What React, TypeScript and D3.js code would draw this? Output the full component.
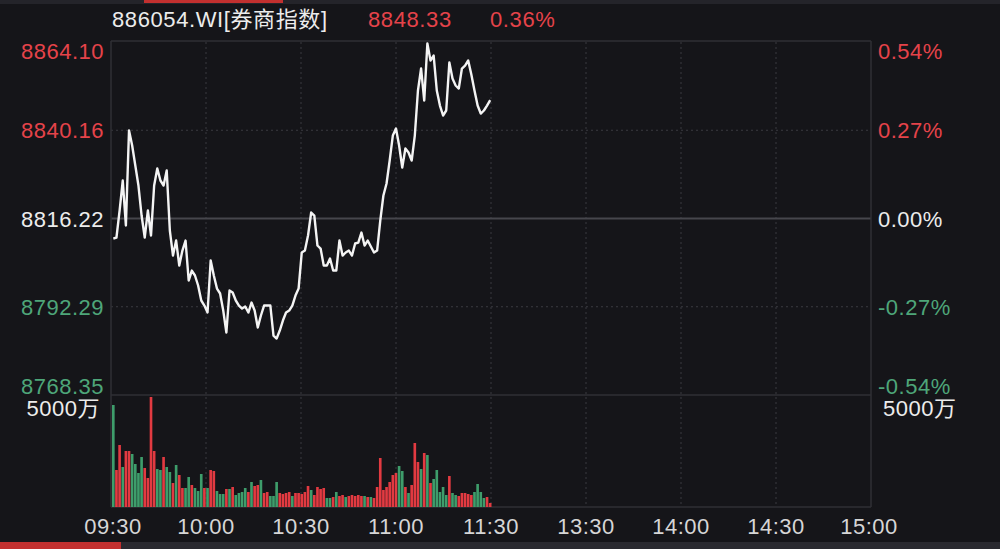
import React from 'react';
import * as d3 from 'd3';

const titleText = '886054.WI[券商指数]';
const lastPriceText = '8848.33';
const lastChangeText = '0.36%';
const prevClose = 8816.22;
const priceTicks = [8864.1, 8840.16, 8816.22, 8792.29, 8768.35];
const pctTicks = ['0.54%', '0.27%', '0.00%', '-0.27%', '-0.54%'];
const timeTickLabels = ['09:30', '10:00', '10:30', '11:00', '11:30', '13:30', '14:00', '14:30', '15:00'];
const timeTickMinutes = [0, 30, 60, 90, 120, 150, 180, 210, 240];
const volumeMax = 5000;
const volumeLabel = '5000万';

const prices = [
  8810.79, 8811.07, 8818.39, 8826.53, 8814.32, 8840.09, 8836.02, 8830.6, 8825.17, 8817.03,
  8811.07, 8818.39, 8811.61, 8825.17, 8829.78, 8826.53, 8825.17, 8829.24, 8812.96, 8806.18,
  8810.25, 8803.47, 8807.54, 8810.25, 8799.4, 8802.11, 8800.76, 8798.05, 8793.98, 8792.62,
  8790.72, 8804.83, 8800.76, 8797.23, 8795.88, 8791.26, 8785.3, 8796.69, 8796.15, 8793.98,
  8792.62, 8791.81, 8792.35, 8790.72, 8793.43, 8791.26, 8786.65, 8789.91, 8792.62, 8792.62,
  8792.62, 8784.48, 8783.67, 8785.84, 8788.55, 8790.72, 8791.26, 8792.62, 8795.33, 8797.23,
  8807.0, 8807.54, 8811.61, 8817.85, 8817.03, 8808.9, 8808.08, 8803.47, 8803.47, 8805.37,
  8802.11, 8802.11, 8810.25, 8806.18, 8807.0, 8807.54, 8806.18, 8809.44, 8809.71, 8812.42,
  8808.9, 8810.25, 8808.62, 8807.0, 8807.54, 8815.68, 8822.46, 8825.71, 8831.95, 8838.73,
  8840.63, 8836.02, 8830.05, 8835.21, 8834.12, 8831.95, 8838.73, 8850.94, 8856.91, 8848.23,
  8863.69, 8859.08, 8860.43, 8850.94, 8846.87, 8844.16, 8845.52, 8858.54, 8854.2, 8852.3,
  8851.48, 8856.91, 8857.72, 8859.08, 8855.28, 8850.94, 8846.87, 8844.7, 8845.52, 8846.87,
  8848.33,
];

const volumes = [
  4554, 1652, 2768, 1786, 2500, 2500, 2366, 1920, 1518, 2232,
  1741, 1295, 4911, 2500, 1696, 1652, 2232, 1786, 1563, 1071,
  1875, 1429, 848, 848, 1339, 982, 848, 714, 1473, 848,
  848, 1652, 1607, 714, 580, 580, 804, 804, 893, 536,
  625, 670, 848, 670, 1116, 938, 982, 1205, 625, 670,
  491, 491, 1116, 625, 580, 625, 670, 491, 625, 625,
  580, 670, 938, 759, 536, 893, 804, 848, 402, 402,
  446, 670, 491, 536, 446, 491, 536, 491, 536, 491,
  491, 446, 446, 402, 893, 2188, 759, 893, 1116, 1429,
  1518, 1830, 1607, 893, 625, 982, 2857, 2009, 1696, 2411,
  2321, 1071, 1250, 1652, 670, 893, 536, 1384, 625, 536,
  491, 625, 625, 580, 536, 670, 1027, 670, 402, 446,
  179,
];

const volumeDir = [
  'G', 'R', 'R', 'G', 'R', 'R', 'G', 'G', 'G', 'G',
  'R', 'R', 'R', 'R', 'G', 'G', 'R', 'G', 'G', 'R',
  'G', 'R', 'R', 'G', 'G', 'R', 'G', 'G', 'G', 'R',
  'G', 'R', 'R', 'G', 'G', 'G', 'R', 'G', 'R', 'G',
  'G', 'G', 'G', 'R', 'G', 'R', 'R', 'G', 'R', 'R',
  'G', 'G', 'G', 'R', 'R', 'R', 'R', 'G', 'R', 'R',
  'R', 'R', 'R', 'G', 'R', 'R', 'R', 'R', 'G', 'G',
  'R', 'G', 'R', 'R', 'G', 'R', 'R', 'R', 'R', 'R',
  'G', 'R', 'G', 'R', 'R', 'R', 'R', 'R', 'R', 'R',
  'R', 'G', 'G', 'R', 'G', 'R', 'R', 'R', 'G', 'R',
  'G', 'R', 'G', 'G', 'G', 'G', 'G', 'R', 'G', 'G',
  'R', 'R', 'R', 'R', 'R', 'G', 'G', 'G', 'G', 'R',
  'R',
];

const W = 1000;
const H = 549;
const BG = '#151519';
const RED = '#e5434a';
const GREEN = '#4ea679';
const BAR_RED = '#e23a41';
const BAR_GREEN = '#3e9d6b';
const TEXT = '#ececec';
const GRID = '#3a3a40';
const FRAME = '#2f2f35';
const FONT = '"Liberation Sans", Arial, "Noto Sans CJK SC", sans-serif';

const plotLeft = 111;
const plotRight = 871;
const priceTop = 42;
const priceBottom = 395;
const volTop = 395;
const volBottom = 507;

export default function App() {
  const xTime = d3.scaleLinear().domain([0, 240]).range([plotLeft, plotRight]);
  const idx = d3.range(prices.length);
  const xBand = d3.scaleBand<number>().domain(idx).range([112, 491.5]).paddingInner(0.16);
  const xc = (i: number) => (xBand(i) as number) + xBand.bandwidth() / 2;
  const yPrice = d3
    .scaleLinear()
    .domain([priceTicks[priceTicks.length - 1], priceTicks[0]])
    .range([priceBottom, priceTop]);
  const yVol = d3.scaleLinear().domain([0, volumeMax]).range([volBottom, volTop]);

  const line = d3
    .line<number>()
    .x((_, i) => xc(i))
    .y((d) => yPrice(d));

  const priceColor = (v: number) =>
    Math.abs(v - prevClose) < 0.005 ? TEXT : v > prevClose ? RED : GREEN;

  const labelBaseline = (i: number, y: number) =>
    i === 0 ? y + 17 : i === priceTicks.length - 1 ? y - 1 : y + 8;

  const fontSize = 22;

  return (
    <svg width={W} height={H} style={{ position: 'absolute', left: 0, top: 0, display: 'block' }}>
      <rect x={0} y={0} width={W} height={H} fill={BG} />
      {/* top tab strip */}
      <rect x={0} y={0} width={W} height={4} fill="#24242a" />
      <rect x={144} y={0} width={139} height={3} fill="#c2302f" />
      {/* bottom strip */}
      <rect x={0} y={542} width={W} height={7} fill="#2a2a30" />
      <rect x={0} y={542} width={121} height={7} fill="#c2302f" />

      {/* header */}
      <g fontFamily={FONT} fontSize={fontSize} letterSpacing={0.6}>
        <text x={112} y={27} fill={TEXT}>{titleText}</text>
        <text x={368} y={27} fill={RED}>{lastPriceText}</text>
        <text x={490} y={27} fill={RED}>{lastChangeText}</text>
      </g>

      {/* horizontal dotted grid in price area */}
      {priceTicks.slice(1, -1).map((p, i) =>
        Math.abs(p - prevClose) < 0.005 ? null : (
          <line key={'hg' + i} x1={plotLeft} x2={plotRight} y1={yPrice(p)} y2={yPrice(p)}
            stroke={GRID} strokeWidth={1} strokeDasharray="2,3" />
        )
      )}
      {/* vertical dotted grid */}
      {timeTickMinutes.slice(1, -1).map((m) => (
        <line key={'vg' + m} x1={xTime(m)} x2={xTime(m)} y1={priceTop} y2={volBottom}
          stroke={GRID} strokeWidth={1} strokeDasharray="2,3" />
      ))}
      {/* zero line */}
      <line x1={plotLeft} x2={plotRight} y1={yPrice(prevClose)} y2={yPrice(prevClose)} stroke="#46464c" strokeWidth={2} />
      {/* frame */}
      <line x1={plotLeft} x2={plotRight} y1={priceTop - 1} y2={priceTop - 1} stroke={FRAME} strokeWidth={1.5} />
      <line x1={plotLeft} x2={plotRight} y1={volTop} y2={volTop} stroke={FRAME} strokeWidth={1.5} />
      <line x1={plotLeft} x2={plotRight} y1={volBottom} y2={volBottom} stroke={FRAME} strokeWidth={1.5} />
      <line x1={plotLeft} x2={plotLeft} y1={priceTop - 1} y2={volBottom} stroke={FRAME} strokeWidth={1.5} />
      <line x1={plotRight} x2={plotRight} y1={priceTop - 1} y2={volBottom} stroke={FRAME} strokeWidth={1.5} />

      {/* volume bars */}
      {volumes.map((v, i) => (
        <rect key={'b' + i} x={xBand(i)} y={yVol(v)} width={xBand.bandwidth()} height={volBottom - yVol(v)}
          fill={volumeDir[i] === 'R' ? BAR_RED : BAR_GREEN} />
      ))}

      {/* price line */}
      <path d={line(prices) || ''} fill="none" stroke="#f4f4f4" strokeWidth={2.4} strokeLinejoin="round" />

      {/* axis labels */}
      <g fontFamily={FONT} fontSize={fontSize} letterSpacing={0.5}>
        {priceTicks.map((p, i) => (
          <text key={'pl' + i} x={104} y={labelBaseline(i, yPrice(p))} textAnchor="end" fill={priceColor(p)}>
            {p.toFixed(2)}
          </text>
        ))}
        {pctTicks.map((t, i) => (
          <text key={'pr' + i} x={878} y={labelBaseline(i, yPrice(priceTicks[i]))} fill={priceColor(priceTicks[i])}>
            {t}
          </text>
        ))}
        <text x={100} y={416} textAnchor="end" fill={TEXT}>{volumeLabel}</text>
        <text x={883} y={416} fill={TEXT}>{volumeLabel}</text>
        {timeTickLabels.map((t, i) => (
          <text key={'tl' + i} x={xTime(timeTickMinutes[i]) + (i === 0 ? 2 : i === timeTickLabels.length - 1 ? -2 : 0)}
            y={534} textAnchor="middle" fill="#d6d6d6">
            {t}
          </text>
        ))}
      </g>
    </svg>
  );
}
